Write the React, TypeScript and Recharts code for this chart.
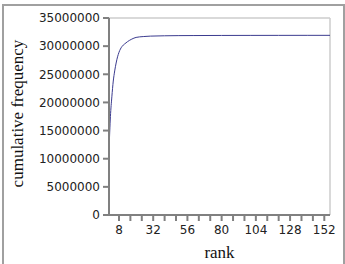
import React from "react";
import {
  LineChart,
  Line,
  XAxis,
  YAxis,
  ReferenceLine,
} from "recharts";

const ranks = [1, 2, 3, 4, 5, 6, 7, 8, 10, 12, 14, 17, 20, 25, 30, 40, 50, 60, 80, 100, 120, 140, 156];
const cumulativeFrequency = [
  11500000, 17500000, 21000000, 23800000, 25600000, 27000000, 28100000, 28900000,
  29900000, 30400000, 30800000, 31250000, 31550000, 31700000, 31780000, 31840000,
  31870000, 31880000, 31900000, 31910000, 31915000, 31920000, 31920000,
];

const xTicks = [8, 16, 24, 32, 40, 48, 56, 64, 72, 80, 88, 96, 104, 112, 120, 128, 136, 144, 152];
const xLabelTicks = [8, 32, 56, 80, 104, 128, 152];
const yTicks = [0, 5000000, 10000000, 15000000, 20000000, 25000000, 30000000, 35000000];

const data = ranks.map((rank, i) => ({ rank, value: cumulativeFrequency[i] }));

const axisColor = "#808080";
const tickFont = { fontFamily: "DejaVu Sans", fontSize: 12, fill: "#222" };
const titleFont = "Liberation Serif";

export default function App() {
  return (
    <div style={{ position: "absolute", left: 0, top: 0, width: 345, height: 264, overflow: "hidden", background: "#fff" }}>
      <div
        style={{
          position: "absolute",
          left: 2,
          top: 4,
          width: 343,
          height: 270,
          boxSizing: "border-box",
          border: "2px solid #a0a0a0",
        }}
      />
      <LineChart
        width={345}
        height={264}
        data={data}
        margin={{ top: 18, right: 15, left: 0, bottom: 0 }}
      >
        <XAxis
          dataKey="rank"
          type="number"
          domain={[1, 156]}
          ticks={xTicks}
          interval={0}
          tickFormatter={(v: number) => (xLabelTicks.includes(v) ? String(v) : "")}
          height={49}
          tickSize={6}
          tickMargin={4}
          stroke={axisColor}
          strokeWidth={2}
          tick={tickFont}
          label={{
            content: ({ viewBox }: any) => (
              <text
                x={viewBox.x + viewBox.width / 2}
                y={viewBox.y + 43}
                textAnchor="middle"
                fontFamily={titleFont}
                fontSize={17}
                fill="#111"
              >
                rank
              </text>
            ),
          }}
        />
        <YAxis
          type="number"
          domain={[0, 35000000]}
          ticks={yTicks}
          interval={0}
          width={109}
          tickSize={6}
          tickMargin={3}
          stroke={axisColor}
          strokeWidth={2}
          tick={tickFont}
          label={{
            content: ({ viewBox }: any) => {
              const cx = viewBox.x + 23;
              const cy = viewBox.y + viewBox.height / 2 - 3;
              return (
                <text
                  x={cx}
                  y={cy}
                  textAnchor="middle"
                  transform={`rotate(-90 ${cx} ${cy})`}
                  fontFamily={titleFont}
                  fontSize={17}
                  fill="#111"
                >
                  cumulative frequency
                </text>
              );
            },
          }}
        />
        <ReferenceLine y={35000000} stroke="#cccccc" strokeWidth={1.5} />
        <ReferenceLine x={156} stroke="#cccccc" strokeWidth={1.5} />
        <Line
          type="monotone"
          dataKey="value"
          stroke="#3b3b8f"
          strokeWidth={1}
          dot={false}
          isAnimationActive={false}
        />
      </LineChart>
    </div>
  );
}
